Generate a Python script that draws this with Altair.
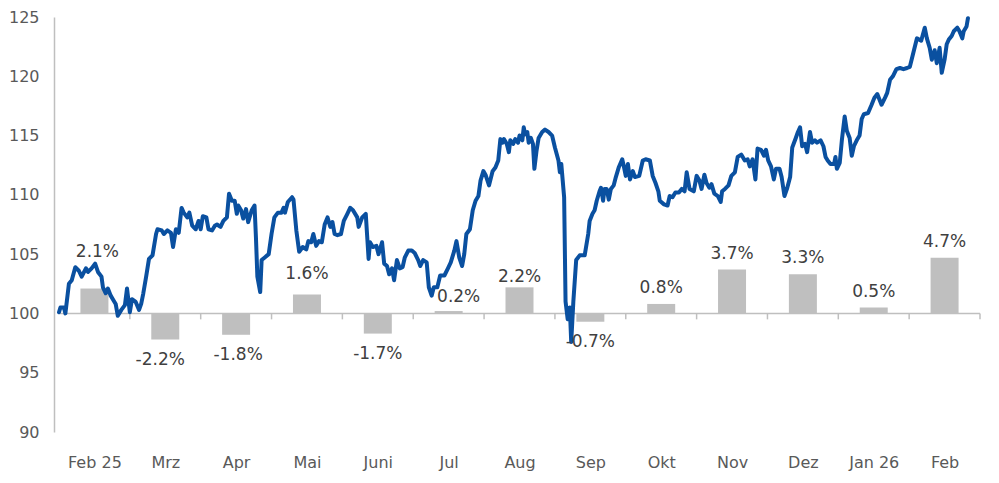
import altair as alt
import pandas as pd

# ---------------- data ----------------
months = ["Feb 25", "Mrz", "Apr", "Mai", "Juni", "Jul", "Aug", "Sep",
          "Okt", "Nov", "Dez", "Jan 26", "Feb"]
monthly_change = [2.1, -2.2, -1.8, 1.6, -1.7, 0.2, 2.2, -0.7, 0.8, 3.7, 3.3, 0.5, 4.7]

# index line: time in months since 1 Feb 2025, index level
line_t = [
    0.00, 0.02, 0.07, 0.09, 0.14, 0.18, 0.23, 0.28, 0.32, 0.38,
    0.41, 0.46, 0.51, 0.55, 0.60, 0.62, 0.66, 0.69, 0.73, 0.76,
    0.80, 0.83, 0.88, 0.93, 0.96, 1.00, 1.03, 1.08, 1.13, 1.16,
    1.19, 1.23, 1.27, 1.32, 1.37, 1.39, 1.45, 1.48, 1.53, 1.58,
    1.61, 1.65, 1.69, 1.73, 1.76, 1.81, 1.84, 1.88, 1.93, 1.97,
    2.00, 2.03, 2.08, 2.11, 2.16, 2.20, 2.23, 2.28, 2.32, 2.37,
    2.40, 2.44, 2.48, 2.51, 2.53, 2.57, 2.60, 2.64, 2.67, 2.72,
    2.76, 2.78, 2.80, 2.84, 2.86, 2.90, 2.96, 3.00, 3.04, 3.09,
    3.14, 3.17, 3.19, 3.23, 3.29, 3.31, 3.35, 3.39, 3.44, 3.49,
    3.52, 3.56, 3.59, 3.63, 3.67, 3.71, 3.75, 3.79, 3.83, 3.86,
    3.89, 3.93, 3.98, 4.02, 4.07, 4.11, 4.15, 4.21, 4.23, 4.28,
    4.33, 4.37, 4.39, 4.43, 4.48, 4.51, 4.56, 4.59, 4.63, 4.66,
    4.70, 4.73, 4.77, 4.81, 4.85, 4.88, 4.93, 4.98, 5.02, 5.07,
    5.10, 5.14, 5.19, 5.22, 5.26, 5.29, 5.34, 5.38, 5.44, 5.49,
    5.53, 5.58, 5.61, 5.65, 5.69, 5.72, 5.75, 5.80, 5.84, 5.88,
    5.92, 5.95, 5.99, 6.02, 6.07, 6.12, 6.16, 6.20, 6.23, 6.26,
    6.28, 6.32, 6.35, 6.37, 6.41, 6.44, 6.48, 6.50, 6.54, 6.56,
    6.58, 6.61, 6.63, 6.66, 6.69, 6.71, 6.74, 6.77, 6.82, 6.86,
    6.91, 6.96, 7.00, 7.05, 7.07, 7.09, 7.13, 7.15, 7.18, 7.21,
    7.23, 7.26, 7.30, 7.35, 7.42, 7.47, 7.49, 7.53, 7.56, 7.59,
    7.63, 7.65, 7.68, 7.70, 7.73, 7.76, 7.79, 7.83, 7.86, 7.90,
    7.95, 7.98, 8.00, 8.03, 8.06, 8.10, 8.13, 8.19, 8.24, 8.28,
    8.34, 8.38, 8.42, 8.46, 8.48, 8.54, 8.59, 8.62, 8.66, 8.70,
    8.75, 8.79, 8.83, 8.86, 8.90, 8.96, 9.00, 9.04, 9.07, 9.11,
    9.14, 9.18, 9.21, 9.25, 9.30, 9.34, 9.36, 9.40, 9.45, 9.49,
    9.54, 9.58, 9.63, 9.68, 9.72, 9.75, 9.79, 9.83, 9.86, 9.91,
    9.95, 9.98, 10.01, 10.05, 10.09, 10.12, 10.17, 10.20, 10.24, 10.28,
    10.32, 10.35, 10.40, 10.43, 10.46, 10.49, 10.53, 10.56, 10.60, 10.63,
    10.67, 10.70, 10.75, 10.79, 10.82, 10.85, 10.89, 10.94, 10.96, 10.98,
    11.02, 11.05, 11.09, 11.12, 11.16, 11.19, 11.22, 11.26, 11.30, 11.33,
    11.36, 11.42, 11.47, 11.51, 11.55, 11.61, 11.66, 11.69, 11.73, 11.77,
    11.82, 11.87, 11.92, 11.97, 12.01, 12.06, 12.11, 12.17, 12.22, 12.25,
    12.29, 12.32, 12.36, 12.39, 12.43, 12.46, 12.50, 12.53, 12.56, 12.60,
    12.63, 12.68, 12.71, 12.75, 12.77, 12.81, 12.83,
]
line_v = [
    100.1, 100.5, 100.5, 100.0, 102.5, 102.8, 103.9, 103.6, 103.1, 103.8,
    103.5, 103.8, 104.2, 103.5, 103.1, 102.2, 101.7, 102.1, 101.5, 101.2,
    100.8, 99.8, 100.3, 100.7, 102.1, 100.1, 101.2, 101.0, 100.3, 100.8,
    101.7, 103.1, 104.6, 104.9, 106.7, 107.1, 107.0, 106.7, 107.0, 106.8,
    105.6, 107.1, 106.8, 108.9, 108.5, 108.1, 108.5, 107.4, 107.1, 107.8,
    107.1, 108.2, 108.1, 107.1, 107.0, 107.4, 107.5, 107.3, 107.8, 108.1,
    110.1, 109.5, 109.5, 108.4, 109.1, 108.7, 108.0, 108.8, 107.7, 108.7,
    109.1, 106.4, 103.1, 101.8, 104.5, 104.7, 105.0, 106.7, 108.1, 108.5,
    108.5, 108.9, 108.5, 109.4, 109.8, 109.6, 107.0, 105.2, 105.6, 105.4,
    106.1, 106.0, 106.7, 105.7, 106.1, 106.0, 107.5, 108.1, 107.3, 107.7,
    106.7, 106.6, 106.7, 107.8, 108.4, 108.9, 108.7, 108.1, 107.3, 108.1,
    108.4, 104.6, 106.0, 105.6, 105.7, 105.0, 106.0, 104.2, 104.0, 103.3,
    103.8, 102.8, 104.5, 103.8, 103.9, 104.7, 105.3, 105.3, 105.1, 104.5,
    104.0, 104.5, 104.3, 102.2, 101.5, 102.2, 102.2, 103.2, 103.2, 103.8,
    104.3, 105.3, 106.1, 104.7, 104.0, 105.0, 106.7, 107.1, 108.7, 109.5,
    109.9, 111.2, 112.0, 111.7, 110.8, 112.0, 112.3, 112.9, 114.7, 114.4,
    114.7, 114.3, 113.6, 114.6, 114.3, 114.7, 114.4, 115.0, 114.6, 115.7,
    115.1, 115.3, 114.4, 114.8, 114.3, 112.2, 113.7, 114.8, 115.3, 115.5,
    115.3, 115.0, 114.0, 112.9, 111.9, 112.6, 109.8, 101.0, 99.5, 100.5,
    97.6, 101.0, 104.5, 104.9, 104.9, 106.7, 107.8, 108.4, 108.7, 109.5,
    110.3, 110.6, 109.5, 110.5, 110.5, 109.6, 110.5, 110.8, 111.5, 112.3,
    113.0, 112.2, 111.6, 112.6, 111.3, 112.0, 111.5, 111.6, 112.9, 113.0,
    112.9, 111.6, 111.0, 110.3, 109.5, 109.2, 109.1, 109.9, 109.8, 110.2,
    110.2, 110.5, 110.3, 111.9, 110.5, 110.3, 111.6, 111.2, 110.5, 111.7,
    111.0, 110.6, 110.9, 110.1, 109.9, 109.4, 110.3, 110.5, 110.8, 111.6,
    111.9, 113.2, 113.4, 112.9, 113.0, 112.4, 113.0, 111.3, 113.9, 113.8,
    113.3, 113.8, 112.9, 112.4, 111.3, 112.2, 112.2, 111.5, 109.9, 110.6,
    111.5, 114.0, 114.8, 115.3, 115.7, 114.1, 114.3, 113.6, 115.3, 114.4,
    114.6, 114.4, 114.6, 114.1, 113.2, 112.9, 112.6, 112.6, 113.2, 112.2,
    112.7, 114.6, 116.6, 115.4, 114.8, 113.3, 114.1, 114.6, 115.0, 116.4,
    116.8, 116.9, 117.6, 118.2, 118.5, 117.6, 118.2, 118.6, 119.7, 120.0,
    120.6, 120.7, 120.6, 120.7, 120.8, 122.0, 123.2, 123.0, 124.1, 123.2,
    122.4, 121.4, 122.2, 121.1, 122.4, 120.3, 121.4, 122.7, 123.1, 123.4,
    123.8, 124.1, 123.8, 123.2, 123.8, 124.2, 124.9,
]
assert len(line_t) == len(line_v)

y_ticks = [90, 95, 100, 105, 110, 115, 120, 125]

# label nudges (pixels) -- styling only
label_dx = [3, -5, 2, 0, 0, 10, 0, 0, 0, 0, 0, 0, 0]
label_dy = [-32, 12, 12, -15, 12, -9, -5, 12, -11, -11, -11, -11, -11]

# ---------------- styling ----------------
FONT = "Verdana, DejaVu Sans"
TXT = "#404040"
AX_TXT = "#595959"
AX_GRAY = "#BFBFBF"
BAR = "#BFBFBF"
BLUE = "#0A50A0"

line_df = pd.DataFrame({"t": line_t, "v": line_v})
bars_df = pd.DataFrame({
    "m": [i + 0.5 for i in range(len(months))],
    "chg": monthly_change,
    "label": [f"{c:.1f}%" for c in monthly_change],
})
bars_df["base"] = 100.0
bars_df["top"] = 100.0 + bars_df["chg"]

xscale = alt.Scale(domain=[0, 13], nice=False, zero=False)
yscale = alt.Scale(domain=[90, 125], nice=False, zero=False)

label_expr = "[" + ",".join(f"'{m}'" for m in months) + "][floor(datum.value)]"
x_axis = alt.Axis(values=[i + 0.5 for i in range(len(months))], labelExpr=label_expr,
                  domain=False, ticks=False, grid=False, title=None,
                  labelFont=FONT, labelFontSize=16, labelColor=AX_TXT, labelPadding=22)
y_axis = alt.Axis(values=y_ticks, domain=True, domainColor=AX_GRAY, domainWidth=1.5,
                  ticks=False, grid=False, title=None,
                  labelFont=FONT, labelFontSize=16, labelColor=AX_TXT, labelPadding=15)


def X(f):
    return alt.X(f, type="quantitative", scale=xscale, axis=x_axis)


def Y(f):
    return alt.Y(f, type="quantitative", scale=yscale, axis=y_axis)


bars = alt.Chart(bars_df).mark_bar(color=BAR, size=28).encode(
    x=X("m"), y=Y("base"), y2="top")

zero_df = pd.DataFrame({"x1": [0], "x2": [13], "y": [100]})
zero_rule = alt.Chart(zero_df).mark_rule(color=AX_GRAY, strokeWidth=1.5).encode(
    x=X("x1"), x2="x2", y=Y("y"))

tick_df = pd.DataFrame({"b": list(range(1, 14))})
tick_df["y1"] = 100.0
tick_df["y2"] = 99.5
ticks = alt.Chart(tick_df).mark_rule(color=AX_GRAY, strokeWidth=1.5).encode(
    x=X("b"), y=Y("y1"), y2="y2")

line = alt.Chart(line_df).mark_line(color=BLUE, strokeWidth=4, strokeJoin="round",
                                    strokeCap="round").encode(x=X("t"), y=Y("v"))

labels = []
for i in range(len(months)):
    pos = monthly_change[i] >= 0
    labels.append(
        alt.Chart(bars_df.iloc[[i]]).mark_text(
            font=FONT, fontSize=17, color=TXT, align="center",
            baseline="alphabetic" if pos else "top",
            dx=label_dx[i], dy=label_dy[i],
        ).encode(x=X("m"), y=Y("top"), text="label:N")
    )

chart = alt.layer(bars, zero_rule, ticks, line, *labels).properties(
    width=931, height=415,
    padding={"left": 0, "top": 1, "right": 5, "bottom": 5},
).configure_view(strokeWidth=0)

chart.save("out.html", embed_options={"renderer": "svg", "actions": False})
